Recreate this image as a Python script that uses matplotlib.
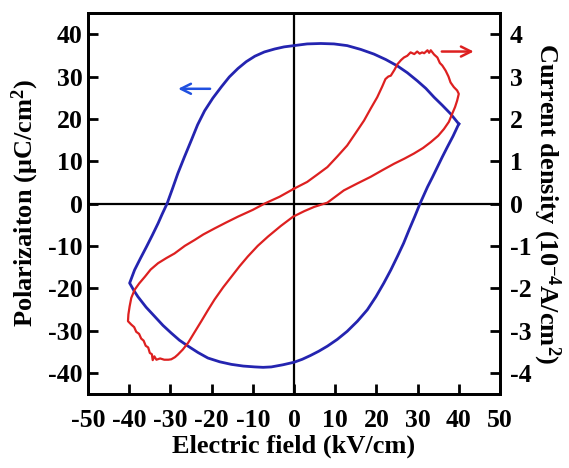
import matplotlib
matplotlib.use("Agg")
import matplotlib.pyplot as plt

plt.rcParams['font.family'] = ['Liberation Serif', 'DejaVu Serif']
plt.rcParams['font.weight'] = 'bold'
plt.rcParams['axes.unicode_minus'] = False
plt.rcParams['mathtext.fontset'] = 'custom'
plt.rcParams['mathtext.rm'] = 'Liberation Serif:bold'
plt.rcParams['mathtext.bf'] = 'Liberation Serif:bold'
plt.rcParams['mathtext.it'] = 'Liberation Serif:bold'

# P-E loop (left axis, uC/cm2)
pe_field = [40, 39, 38, 36, 34, 32, 29.9, 27.5, 25.1, 22.3, 19.4, 16.2, 12.9, 9.7, 6.5, 3.2, 0,
            -2.4, -4.7, -7.2, -9.5, -11.6, -13.6, -15.7, -17.6, -19.7, -21.7, -23.4, -24.9, -26.6, -28.2,
            -29.5, -30.8, -32, -33, -34.4, -35.8, -37.3, -38.7, -39.9,
            -38.9, -37.9, -35.9, -33.8, -31.8, -29.8, -27.8, -25.7, -23.3, -20.9, -18, -15.2, -12.3,
            -9.5, -7.5, -5.5, -2.7, 0, 2, 4, 6, 8.1, 10.5, 12.9, 15.4, 17.8, 19.9, 21.8, 23.5, 25.1, 26.6, 27.9,
            29.3, 30.6, 32.4, 33.6, 34.8, 36, 37.2, 38.6, 40]
pe_pol = [18.8, 20.0, 21.2, 23.2, 25.1, 27.2, 29, 30.9, 32.5, 34.0, 35.3, 36.4, 37.3, 37.7, 37.8, 37.7, 37.3,
          37.0, 36.5, 35.8, 34.8, 33.5, 31.9, 29.9, 27.6, 24.9, 21.9, 18.6, 15.0, 11.0, 7.1,
          3.5, 0, -2.5, -4.7, -7.5, -10.2, -13.0, -15.7, -18.8,
          -20.5, -22, -24.5, -26.7, -28.8, -30.6, -32.3, -33.7, -35.2, -36.5, -37.4, -38, -38.4,
          -38.6, -38.7, -38.6, -38.1, -37.5, -36.8, -35.9, -34.9, -33.7, -32.1, -30.2, -27.8, -25.1, -22.0, -18.8,
          -15.7, -12.5, -9.4, -6.3,
          -3.1, 0, 3.9, 6.2, 8.6, 11, 13.3, 15.9, 18.8]

# current density loop (right axis, 1e-4 A/cm2)
j_field = [0, -3.5, -7.1, -10, -13.6, -16.5, -19.3, -22, -24.1, -26.5, -29, -31, -33, -34.8, -36.2,
           -37.6, -38.7, -39.5, -39.9, -40.2, -40.3,
           -39.5, -38.8, -38.3, -37.6, -37.1, -36.5, -36.0, -35.4, -35.0, -34.5, -34.3, -33.9, -33.4,
           -32.5, -31.5, -30.5, -29.8, -28.9, -28.2, -27, -25.7, -24.2, -22.5, -20.9, -19.3, -17.2,
           -15.2, -13.2, -11.2, -8.8, -6.3, -3.2, -0.2, 2.5, 4.9, 8.1, 12.1, 15.3, 18.6, 21.5, 24.3,
           26.8, 29.1, 31.3, 33.2, 35, 36.4, 37.6, 38.4, 39.1, 39.6, 40, 39.6, 38.8, 38, 37.5, 36.8,
           36.0, 35.4, 34.8, 34.0, 33.2, 32.8, 32.4, 31.6, 31.1, 30.5, 29.9, 29.2, 28.3, 27.5, 26.7,
           26.0, 25.1, 24.4, 23.5, 22.9, 22.2, 21.4, 20.2, 18.6, 17, 15, 12.9, 10.5, 8.1, 5.6, 3.2, 0]
j_dens = [0.35, 0.16, 0, -0.15, -0.31, -0.45, -0.59, -0.73, -0.86, -1.0, -1.18, -1.29, -1.41, -1.56, -1.73,
          -1.89, -2.04, -2.23, -2.43, -2.62, -2.78,
          -2.86, -2.92, -3.03, -3.08, -3.19, -3.24, -3.36, -3.40, -3.53, -3.56, -3.70, -3.61, -3.69,
          -3.66, -3.69, -3.69, -3.68, -3.63, -3.57, -3.45, -3.29, -3.05, -2.78, -2.52, -2.27, -1.98,
          -1.73, -1.48, -1.25, -1.0, -0.78, -0.53, -0.31, -0.18, -0.08, 0.02, 0.31, 0.47, 0.63, 0.79, 0.94,
          1.06, 1.18, 1.31, 1.45, 1.6, 1.76, 1.93, 2.12, 2.28, 2.43, 2.59, 2.67, 2.75, 2.86, 3.0, 3.14,
          3.26, 3.32, 3.45, 3.52, 3.62, 3.56, 3.62, 3.55, 3.57, 3.54, 3.59, 3.53, 3.57, 3.49, 3.45,
          3.39, 3.29, 3.16, 3.02, 3.0, 2.94, 2.76, 2.51, 2.24, 1.96, 1.67, 1.37, 1.11, 0.86, 0.68, 0.51, 0.35]

fig = plt.figure(figsize=(5.69, 4.68), dpi=100)
ax = fig.add_axes([0.1547, 0.1581, 0.724, 0.8141])
ax2 = ax.twinx()

ax.axhline(0, color='black', lw=1.6, zorder=1)
ax.axvline(0, color='black', lw=1.6, zorder=1)
ax.plot(pe_field, pe_pol, color='#2424b0', lw=2.0, zorder=3)
ax2.plot(j_field, j_dens, color='#dd2020', lw=1.6, zorder=3)

ax.annotate('', xy=(-28.8, 27.1), xytext=(-19.7, 27.1),
            arrowprops=dict(arrowstyle='->', color='#2050e0', lw=1.8, mutation_scale=18))
ax.annotate('', xy=(44.3, 35.9), xytext=(35.2, 35.9),
            arrowprops=dict(arrowstyle='->', color='#dd2020', lw=1.8, mutation_scale=18))

ax.set_xlim(-50, 50)
ax.set_ylim(-45, 45)
ax2.set_ylim(-4.5, 4.5)
ax.set_xticks(range(-50, 51, 10))
ax.set_yticks(range(-40, 41, 10))
ax2.set_yticks(range(-4, 5, 1))

for a in (ax, ax2):
    for s in a.spines.values():
        s.set_linewidth(2)
ax.tick_params(axis='x', direction='in', length=7, width=2, pad=11, labelsize=18.5)
ax.tick_params(axis='y', direction='in', length=7, width=2, pad=4, labelsize=18.5)
ax2.tick_params(axis='y', direction='in', length=7, width=2, pad=7, labelsize=18.5)

ax.set_xlabel('Electric field (kV/cm)', fontsize=19, fontweight='bold', labelpad=2)
ax.set_ylabel('Polarizaiton (μC/cm$^{2}$)', fontsize=19, fontweight='bold', labelpad=5)
ax2.set_ylabel('Current density (10$^{-4}$A/cm$^{2}$)', fontsize=19, fontweight='bold',
               rotation=270, labelpad=22)

fig.savefig('out.png', dpi=100)
